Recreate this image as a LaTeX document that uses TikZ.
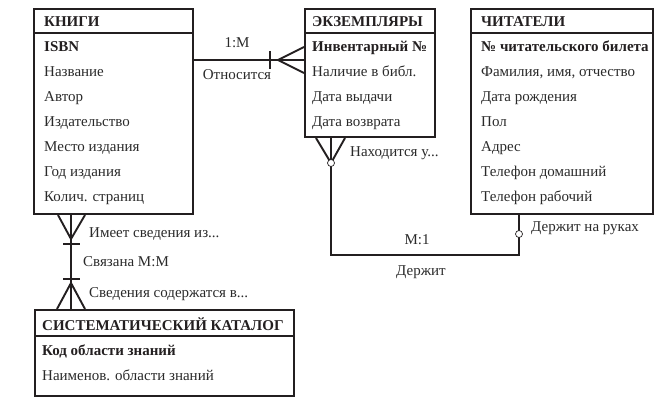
\documentclass[tikz,border=0pt]{standalone}
\usepackage{fontspec}
\setmainfont{Liberation Serif}
\usetikzlibrary{calc}
\definecolor{ink}{HTML}{231F20}
\definecolor{txt}{HTML}{2A2A2A}
\begin{document}
\begin{tikzpicture}[x=1pt,y=-1pt,
  font=\fontsize{15}{18}\selectfont,
  ent/.style={draw=ink, line width=2pt, anchor=north west, inner sep=0pt},
  sepline/.style={draw=ink, line width=1.6pt},
  hdr/.style={anchor=base west, inner sep=0pt, font=\fontsize{15}{18}\selectfont\bfseries, text=ink},
  keyrow/.style={anchor=base west, inner sep=0pt, font=\fontsize{15}{18}\selectfont\bfseries, text=ink},
  fld/.style={anchor=base west, inner sep=0pt, text=txt},
  lbl/.style={anchor=base, inner sep=0pt, text=txt},
  lbll/.style={anchor=base west, inner sep=0pt, text=txt},
  conn/.style={draw=ink, line width=1.9pt},
  opt/.style={circle, draw=ink, fill=white, line width=0.7pt, inner sep=0pt, minimum size=7pt}
]
\useasboundingbox (0,0) rectangle (668,411);

% ---------- entities ----------
\node[ent, minimum width=159pt, minimum height=205pt] (books) at (33,8) {};
\draw[sepline] ($(books.north west)+(0,25)$) -- ($(books.north east)+(0,25)$);
\node[hdr] (booksH) at (44,27) {КНИГИ};
\node[keyrow] (b1) at (44,52) {ISBN};
\node[fld] (b2) at (44,77) {Название};
\node[fld] (b3) at (44,102) {Автор};
\node[fld] (b4) at (44,127) {Издательство};
\node[fld] (b5) at (44,152) {Место издания};
\node[fld] (b6) at (44,177) {Год издания};
\node[fld] (b7) at (44,202) {Колич. страниц};

\node[ent, minimum width=130pt, minimum height=128pt] (ex) at (304,8) {};
\draw[sepline] ($(ex.north west)+(0,25)$) -- ($(ex.north east)+(0,25)$);
\node[hdr] (exH) at (312,27) {ЭКЗЕМПЛЯРЫ};
\node[keyrow] (e1) at (312,52) {Инвентарный №};
\node[fld] (e2) at (312,77) {Наличие в библ.};
\node[fld] (e3) at (312,102) {Дата выдачи};
\node[fld] (e4) at (312,127) {Дата возврата};

\node[ent, minimum width=182pt, minimum height=205pt] (rd) at (470,8) {};
\draw[sepline] ($(rd.north west)+(0,25)$) -- ($(rd.north east)+(0,25)$);
\node[hdr] (rdH) at (481,27) {ЧИТАТЕЛИ};
\node[keyrow] (r1) at (481,52) {№ читательского билета};
\node[fld] (r2) at (481,77) {Фамилия, имя, отчество};
\node[fld] (r3) at (481,102) {Дата рождения};
\node[fld] (r4) at (481,127) {Пол};
\node[fld] (r5) at (481,152) {Адрес};
\node[fld] (r6) at (481,177) {Телефон домашний};
\node[fld] (r7) at (481,202) {Телефон рабочий};

\node[ent, minimum width=259pt, minimum height=86pt] (cat) at (34,309) {};
\draw[sepline] ($(cat.north west)+(0,27)$) -- ($(cat.north east)+(0,27)$);
\node[hdr] (catH) at (42,330) {СИСТЕМАТИЧЕСКИЙ КАТАЛОГ};
\node[keyrow] (k1) at (42,355) {Код области знаний};
\node[fld] (k2) at (42,380) {Наименов. области знаний};

% ---------- КНИГИ -- ЭКЗЕМПЛЯРЫ ----------
\coordinate (c1) at (0,60);
\draw[conn] (books.east |- c1) -- (ex.west |- c1);
\draw[conn] ($(ex.west |- c1)+(-34,-9)$) -- ++(0,18);
\draw[conn] ($(ex.west |- c1)+(0,-13)$) -- ($(ex.west |- c1)+(-26,0)$) -- ($(ex.west |- c1)+(0,13)$);
\node[lbl] (l1) at (237,48) {1:M};
\node[lbl] (l2) at (237,80) {Относится};

% ---------- ЭКЗЕМПЛЯРЫ -- ЧИТАТЕЛИ ----------
\coordinate (c2) at (331,255);
\coordinate (c3) at (519,255);
\draw[conn] (ex.south -| c2) -- (c2) -- (c3) -- (rd.south -| c3);
\draw[conn] ($(ex.south -| c2)+(-15,0)$) -- ($(ex.south -| c2)+(0,25)$) -- ($(ex.south -| c2)+(14,0)$);
\node[opt] (o1) at (331,163) {};
\node[opt] (o2) at (519,234) {};
\node[lbll] (l3) at (350,157) {Находится у...};
\node[lbll] (l4) at (531,232) {Держит на руках};
\node[lbl] (l5) at (417,245) {M:1};
\node[lbl] (l6) at (421,276) {Держит};

% ---------- КНИГИ -- КАТАЛОГ ----------
\coordinate (c4) at (71,0);
\draw[conn] (books.south -| c4) -- (cat.north -| c4);
\draw[conn] ($(books.south -| c4)+(-13,0)$) -- ($(books.south -| c4)+(0,24)$) -- ($(books.south -| c4)+(14,0)$);
\draw[conn] ($(books.south -| c4)+(-8,29)$) -- ++(17,0);
\draw[conn] ($(cat.north -| c4)+(-8,-30)$) -- ++(17,0);
\draw[conn] ($(cat.north -| c4)+(-14,0)$) -- ($(cat.north -| c4)+(0,-26)$) -- ($(cat.north -| c4)+(14,0)$);
\node[lbll] (l7) at (89,238) {Имеет сведения из...};
\node[lbll] (l8) at (83,266) {Связана М:М};
\node[lbll] (l9) at (89,297) {Сведения содержатся в...};
\end{tikzpicture}
\end{document}
